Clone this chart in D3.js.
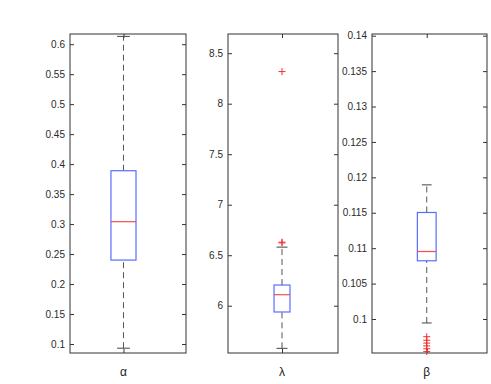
<!DOCTYPE html>
<html>
<head>
<meta charset="utf-8">
<script src="https://cdn.jsdelivr.net/npm/d3@7"></script>
<style>
  body { margin: 0; background: #fff; }
  text { font-family: "Liberation Sans", Arial, sans-serif; }
</style>
</head>
<body>
<script>
// Box plot statistics, one entry per parameter
var categories = ["α", "λ", "β"];
var whiskerLo = [0.093, 5.578, 0.09944];
var q1 = [0.240, 5.938, 0.10822];
var medians = [0.304, 6.109, 0.10953];
var q3 = [0.389, 6.205, 0.11504];
var whiskerHi = [0.613, 6.580, 0.11894];
var outliers = [
  [],
  [8.318, 6.629, 6.622],
  [0.0975, 0.0970, 0.0966, 0.0962, 0.0958, 0.0954]
];

// y limits and tick labels per panel
var yDomains = [[0.085, 0.617], [5.532, 8.69], [0.0952, 0.14024]];
var yTickLabels = [
  ["0.1", "0.15", "0.2", "0.25", "0.3", "0.35", "0.4", "0.45", "0.5", "0.55", "0.6"],
  ["6", "6.5", "7", "7.5", "8", "8.5"],
  ["0.1", "0.105", "0.11", "0.115", "0.12", "0.125", "0.13", "0.135", "0.14"]
];

// Layout of the three axes (pixels)
var svgWidth = 491;
var svgHeight = 384;
var plotTop = 34, plotBottom = 353;
var panels = [
  { left: 70, right: 186, xDomain: [0.539, 1.539], boxW: 0.216, capW: 0.11 },
  { left: 228, right: 338, xDomain: [0.509, 1.509], boxW: 0.145, capW: 0.10 },
  { left: 372, right: 487, xDomain: [0.524, 1.524], boxW: 0.163, capW: 0.085 }
];

var svg = d3.select("body")
  .append("svg")
  .attr("width", svgWidth)
  .attr("height", svgHeight);

panels.forEach(function(p, i) {
  var w = p.right - p.left;
  var h = plotBottom - plotTop;
  var g = svg.append("g").attr("transform", `translate(${p.left}, ${plotTop})`);

  var xScale = d3.scaleLinear().domain(p.xDomain).range([0, w]);
  var yScale = d3.scaleLinear().domain(yDomains[i]).range([h, 0]);

  // axes frame
  g.append("rect")
    .attr("x", 0).attr("y", 0)
    .attr("width", w).attr("height", h)
    .attr("fill", "none")
    .attr("stroke", "#333")
    .attr("stroke-width", 1);

  // left axis with inward ticks
  var ticks = yTickLabels[i].map(Number);
  var yAxis = d3.axisLeft(yScale)
    .tickValues(ticks)
    .tickFormat((d, k) => yTickLabels[i][k])
    .tickSize(-4)
    .tickPadding(5);
  var ya = g.append("g").call(yAxis);
  ya.select(".domain").remove();
  ya.selectAll("line").attr("stroke", "#333");
  ya.selectAll("text").attr("font-size", 10).attr("fill", "#2a2a2a")
    .attr("font-family", "Liberation Sans, Arial, sans-serif");

  // right side ticks
  var yr = g.append("g").attr("transform", `translate(${w},0)`)
    .call(d3.axisRight(yScale).tickValues(ticks).tickSize(-4).tickFormat(""));
  yr.select(".domain").remove();
  yr.selectAll("line").attr("stroke", "#333");

  // x ticks at top and bottom
  var xb = g.append("g").attr("transform", `translate(0,${h})`)
    .call(d3.axisBottom(xScale).tickValues([1]).tickSize(-4).tickFormat(""));
  xb.select(".domain").remove();
  xb.selectAll("line").attr("stroke", "#333");
  var xt = g.append("g")
    .call(d3.axisTop(xScale).tickValues([1]).tickSize(-4).tickFormat(""));
  xt.select(".domain").remove();
  xt.selectAll("line").attr("stroke", "#333");

  // category label
  g.append("text")
    .attr("x", xScale(1))
    .attr("y", h + 23)
    .attr("text-anchor", "middle")
    .attr("font-family", "DejaVu Serif, Liberation Serif, serif")
    .attr("font-size", 12)
    .attr("fill", "#222")
    .text(categories[i]);

  var cx = xScale(1);
  var bx0 = xScale(1 - p.boxW / 2), bx1 = xScale(1 + p.boxW / 2);
  var cx0 = xScale(1 - p.capW / 2), cx1 = xScale(1 + p.capW / 2);

  // whiskers (dashed)
  [[whiskerLo[i], q1[i]], [q3[i], whiskerHi[i]]].forEach(function(seg) {
    g.append("line")
      .attr("x1", cx).attr("x2", cx)
      .attr("y1", yScale(seg[0])).attr("y2", yScale(seg[1]))
      .attr("stroke", "#555")
      .attr("stroke-dasharray", "6,4");
  });

  // whisker caps
  [whiskerLo[i], whiskerHi[i]].forEach(function(v) {
    g.append("line")
      .attr("x1", cx0).attr("x2", cx1)
      .attr("y1", yScale(v)).attr("y2", yScale(v))
      .attr("stroke", "#444");
  });

  // box
  g.append("rect")
    .attr("x", bx0)
    .attr("y", yScale(q3[i]))
    .attr("width", bx1 - bx0)
    .attr("height", yScale(q1[i]) - yScale(q3[i]))
    .attr("fill", "none")
    .attr("stroke", "#5a6cff")
    .attr("stroke-width", 1.2);

  // median
  g.append("line")
    .attr("x1", bx0).attr("x2", bx1)
    .attr("y1", yScale(medians[i])).attr("y2", yScale(medians[i]))
    .attr("stroke", "#f05050")
    .attr("stroke-width", 1.2);

  // outliers as red "+"
  var s = 3.5;
  g.selectAll(".outlier")
    .data(outliers[i])
    .enter()
    .append("path")
    .classed("outlier", true)
    .attr("d", d => `M${cx - s},${yScale(d)}H${cx + s}M${cx},${yScale(d) - s}V${yScale(d) + s}`)
    .attr("stroke", "#f03030")
    .attr("stroke-width", 1)
    .attr("fill", "none");
});
</script>
</body>
</html>
